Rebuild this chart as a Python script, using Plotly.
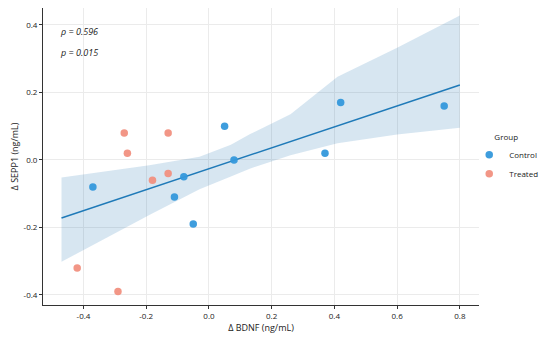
import plotly.graph_objects as go

# scatter data
control_x = [-0.37, -0.11, -0.08, -0.05, 0.05, 0.08, 0.37, 0.42, 0.75]
control_y = [-0.08, -0.11, -0.05, -0.19, 0.10, 0.00, 0.02, 0.17, 0.16]
treated_x = [-0.42, -0.29, -0.27, -0.26, -0.18, -0.13, -0.13]
treated_y = [-0.32, -0.39, 0.08, 0.02, -0.06, 0.08, -0.04]

# regression line and its confidence band
fit_x = [-0.47, 0.8]
fit_y = [-0.172, 0.222]
band_x = [-0.47, -0.30, -0.19, -0.03, 0.07, 0.13, 0.26, 0.41, 0.60, 0.80]
band_upper = [-0.052, -0.030, -0.016, 0.009, 0.045, 0.076, 0.135, 0.246, 0.332, 0.428]
band_lower = [-0.302, -0.218, -0.163, -0.087, -0.049, -0.026, 0.014, 0.049, 0.075, 0.095]

x_ticks = [-0.4, -0.2, 0.0, 0.2, 0.4, 0.6, 0.8]
y_ticks = [-0.4, -0.2, 0.0, 0.2, 0.4]

font = "Open Sans"

fig = go.Figure()

fig.add_trace(go.Scatter(
    x=band_x + band_x[::-1],
    y=band_upper + band_lower[::-1],
    fill="toself",
    fillcolor="rgba(31,119,180,0.18)",
    line=dict(width=0),
    mode="lines",
    hoverinfo="skip",
    showlegend=False,
))
fig.add_trace(go.Scatter(
    x=fit_x, y=fit_y, mode="lines",
    line=dict(color="#1f7ab8", width=1.5),
    showlegend=False,
))
fig.add_trace(go.Scatter(
    x=control_x, y=control_y, mode="markers", name="Control",
    marker=dict(color="#3498db", size=7.5, opacity=0.95),
))
fig.add_trace(go.Scatter(
    x=treated_x, y=treated_y, mode="markers", name="Treated",
    marker=dict(color="#f1907f", size=7.5, opacity=0.95),
))

# Spearman annotation
fig.add_annotation(x=0.035, y=0.92, xref="paper", yref="paper", text="<i>ρ = 0.596</i>",
                   showarrow=False, xanchor="left", yanchor="middle",
                   font=dict(size=9, color="#222"))
fig.add_annotation(x=0.035, y=0.85, xref="paper", yref="paper", text="<i>p = 0.015</i>",
                   showarrow=False, xanchor="left", yanchor="middle",
                   font=dict(size=9, color="#222"))

axis_common = dict(
    showgrid=True, gridcolor="#ebebeb", gridwidth=1,
    showline=True, linecolor="#333", linewidth=1,
    ticks="outside", ticklen=3, tickcolor="#333",
    zeroline=False, tickfont=dict(size=8, color="#222"),
    automargin=False,
)

# the page body adds an 8px offset, so the figure is slightly smaller than the window
fig.update_layout(
    width=542, height=329,
    margin=dict(l=35, r=71, t=0, b=32, autoexpand=False),
    plot_bgcolor="white", paper_bgcolor="white",
    font=dict(family=font, color="#222"),
    xaxis=dict(axis_common, range=[-0.529, 0.861], tickvals=x_ticks,
               ticktext=[f"{v:.1f}" for v in x_ticks],
               title=dict(text="Δ BDNF (ng/mL)", font=dict(size=9), standoff=2)),
    yaxis=dict(axis_common, range=[-0.43, 0.45], tickvals=y_ticks,
               ticktext=[f"{v:.1f}" for v in y_ticks],
               title=dict(text="Δ SEPP1 (ng/mL)", font=dict(size=9), standoff=7)),
    legend=dict(title=dict(text="Group", font=dict(size=8), side="top center"),
                font=dict(size=8),
                xref="container", yref="container",
                x=0.851, y=0.63, xanchor="left", yanchor="top",
                bgcolor="rgba(0,0,0,0)", itemsizing="trace",
                itemwidth=30, tracegroupgap=0),
)

fig.write_html("out.html")
